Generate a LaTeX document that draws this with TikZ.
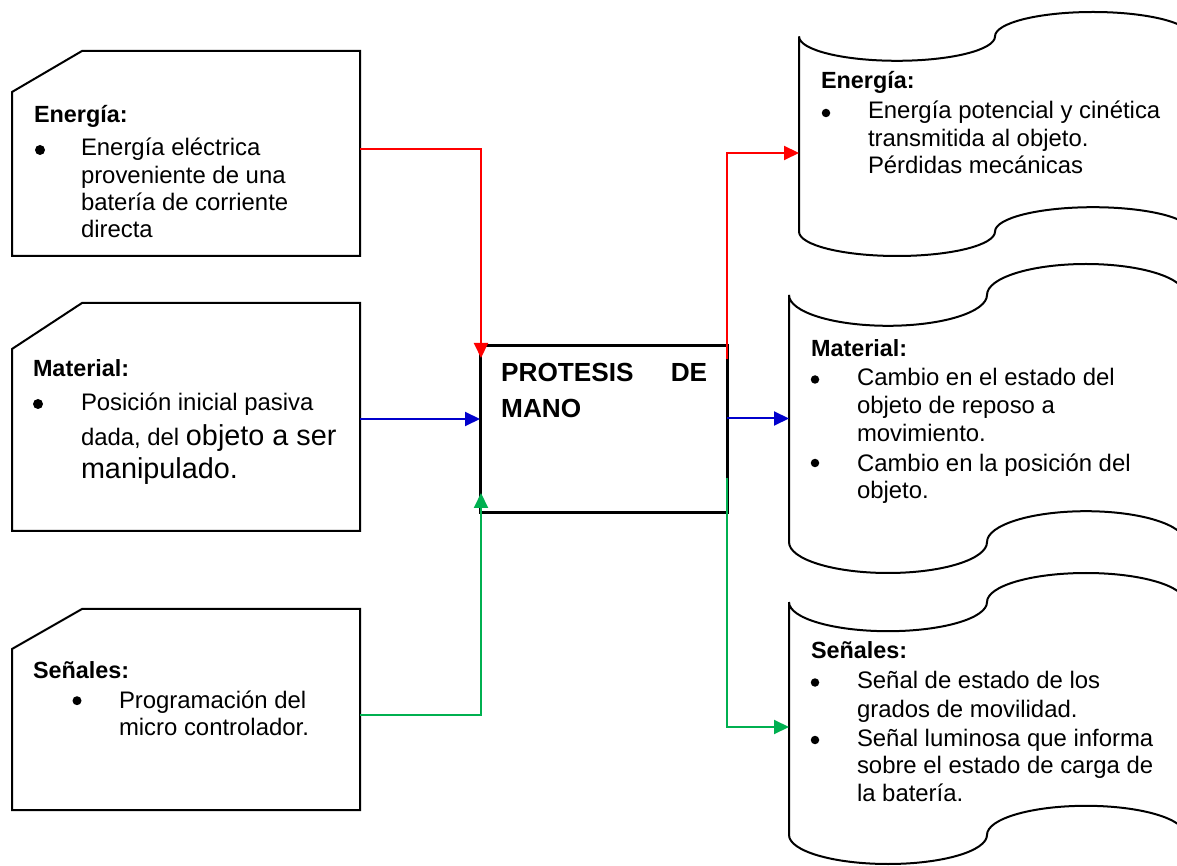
\documentclass[tikz,border=0pt]{standalone}
\usepackage{fontspec}
\setmainfont{Liberation Sans}
\usetikzlibrary{arrows.meta,calc}
\definecolor{cred}{HTML}{FF0000}
\definecolor{cblue}{HTML}{0000CC}
\definecolor{cgreen}{HTML}{00B050}
\newcommand\nf{\fontsize{23.9}{28}\selectfont}
\newcommand\tf{\fontsize{23.4}{28}\selectfont\bfseries}
\newcommand\bgf{\fontsize{28.8}{34}\selectfont}
\newcommand\cbf{\fontsize{26.2}{35}\selectfont\bfseries}
\begin{document}
\begin{tikzpicture}[x=1pt,y=1pt,
  holder/.style={draw=none,rectangle,inner sep=0pt,outer sep=0pt},
  outline/.style={draw=black,line width=2pt,line join=miter},
  txt/.style={anchor=base west,inner sep=0pt,outer sep=0pt,font=\nf},
  ttl/.style={txt,font=\tf},
  dot/.style={circle,fill=black,draw=none,inner sep=0pt,outer sep=0pt,minimum size=#1},
  link/.style={line width=2pt,-{Triangle[length=15pt,width=14pt]}}]
\clip (0,0) rectangle (1177,865);
\fill[white] (0,0) rectangle (1177,865);

% ---------- left boxes ----------
\node[holder,minimum width=348pt,minimum height=205pt] (b1) at (186,711.5) {};
\draw[outline] (b1.south west) -- (b1.south east) -- (b1.north east)
  -- ([xshift=70pt]b1.north west) -- ([yshift=-41pt]b1.north west) -- cycle;
\node[holder,minimum width=348pt,minimum height=228pt] (b2) at (186,448) {};
\draw[outline] (b2.south west) -- (b2.south east) -- (b2.north east)
  -- ([xshift=70pt]b2.north west) -- ([yshift=-46pt]b2.north west) -- cycle;
\node[holder,minimum width=348pt,minimum height=201pt] (b3) at (186,155.5) {};
\draw[outline] (b3.south west) -- (b3.south east) -- (b3.north east)
  -- ([xshift=70pt]b3.north west) -- ([yshift=-40pt]b3.north west) -- cycle;

% ---------- right tapes ----------
\node[holder,minimum width=392pt,minimum height=244pt] (t1) at (995,731) {};
\draw[outline] ([yshift=-24.4pt]t1.north west)
  arc[start angle=180,end angle=360,x radius=98pt,y radius=24.4pt]
  arc[start angle=180,end angle=0,x radius=98pt,y radius=24.4pt]
  -- ([yshift=24.4pt]t1.south east)
  arc[start angle=0,end angle=180,x radius=98pt,y radius=24.4pt]
  arc[start angle=0,end angle=-180,x radius=98pt,y radius=24.4pt] -- cycle;
\node[holder,minimum width=396pt,minimum height=309pt] (t2) at (987,446.5) {};
\draw[outline] ([yshift=-30.9pt]t2.north west)
  arc[start angle=180,end angle=360,x radius=99pt,y radius=30.9pt]
  arc[start angle=180,end angle=0,x radius=99pt,y radius=30.9pt]
  -- ([yshift=30.9pt]t2.south east)
  arc[start angle=0,end angle=180,x radius=99pt,y radius=30.9pt]
  arc[start angle=0,end angle=-180,x radius=99pt,y radius=30.9pt] -- cycle;
\node[holder,minimum width=396pt,minimum height=291pt] (t3) at (987,146.5) {};
\draw[outline] ([yshift=-29.1pt]t3.north west)
  arc[start angle=180,end angle=360,x radius=99pt,y radius=29.1pt]
  arc[start angle=180,end angle=0,x radius=99pt,y radius=29.1pt]
  -- ([yshift=29.1pt]t3.south east)
  arc[start angle=0,end angle=180,x radius=99pt,y radius=29.1pt]
  arc[start angle=0,end angle=-180,x radius=99pt,y radius=29.1pt] -- cycle;

% ---------- center box ----------
\node[draw=black,line width=3pt,rectangle,minimum width=247pt,minimum height=167pt,
  inner sep=0pt,outer sep=0pt] (pm) at (603.5,435.5) {};
\node[anchor=base west,inner sep=0pt,font=\cbf] (pmt1) at (501,483.3) {\makebox[206pt][s]{PROTESIS DE}};
\node[anchor=base west,inner sep=0pt,font=\cbf] (pmt2) at (501,447.7) {MANO};

% ---------- connectors ----------
\coordinate (ri) at ([yshift=4.5pt]b1.east);
\draw[link,cred] (ri) -| ([xshift=1pt,yshift=-12pt]pm.north west);
\coordinate (bi) at ([yshift=-2pt]b2.east);
\draw[link,cblue] (bi) -- (bi -| pm.west);
\coordinate (gi) at ([yshift=-5.5pt]b3.east);
\draw[link,cgreen] (gi) -| ([xshift=1pt,yshift=20pt]pm.south west);
\coordinate (ro) at ([yshift=-13pt]pm.north east);
\draw[link,cred] (ro) |- ([yshift=-19pt]t1.west);
\draw[link,cblue] (t2.west -| pm.east) -- (t2.west);
\coordinate (go) at ([yshift=-48.5pt]pm.east);
\draw[link,cgreen] (go) |- ([yshift=-8.5pt]t3.west);

% ---------- left texts ----------
\node[ttl] (b1t) at (34,742.3) {Energía:};
\node[dot=10pt] (b1d) at (40,715) {};
\node[txt] (b1a) at (81,709) {Energía eléctrica};
\node[txt] (b1b) at (81,681.7) {proveniente de una};
\node[txt] (b1c) at (81,654.4) {batería de corriente};
\node[txt] (b1e) at (81,627) {directa};

\node[ttl] (b2t) at (33,488) {Material:};
\node[dot=10pt] (b2d) at (38,461) {};
\node[txt] (b2a) at (81,454) {Posición inicial pasiva};
\node[txt] (b2b) at (81,419) {dada, del {\bgf objeto a ser}};
\node[txt,font=\bgf] (b2c) at (81,386) {manipulado.};

\node[ttl] (b3t) at (33,187) {Señales:};
\node[dot=9pt] (b3d) at (77,164.3) {};
\node[txt] (b3a) at (119,157) {Programación del};
\node[txt] (b3b) at (119,130) {micro controlador.};

% ---------- right texts ----------
\node[ttl] (t1t) at (821,776) {Energía:};
\node[dot=8.5pt] (t1d) at (826,752) {};
\node[txt] (t1a) at (868,746.5) {Energía potencial y cinética};
\node[txt] (t1b) at (868,718) {transmitida al objeto.};
\node[txt] (t1c) at (868,691.5) {Pérdidas mecánicas};

\node[ttl] (t2t) at (811,508) {Material:};
\node[dot=8.5pt] (t2d) at (815,485.5) {};
\node[txt] (t2a) at (857,479.5) {Cambio en el estado del};
\node[txt] (t2b) at (857,451.5) {objeto de reposo a};
\node[txt] (t2c) at (857,423.5) {movimiento.};
\node[dot=8.5pt] (t2e) at (815,402) {};
\node[txt] (t2f) at (857,393.5) {Cambio en la posición del};
\node[txt] (t2g) at (857,366) {objeto.};

\node[ttl] (t3t) at (811,206.5) {Señales:};
\node[dot=8.5pt] (t3d) at (815,182.5) {};
\node[txt] (t3a) at (857,176.5) {Señal de estado de los};
\node[txt] (t3b) at (857,147.5) {grados de movilidad.};
\node[dot=8.5pt] (t3e) at (815,125) {};
\node[txt] (t3f) at (857,118.5) {Señal luminosa que informa};
\node[txt] (t3g) at (857,91.5) {sobre el estado de carga de};
\node[txt] (t3h) at (857,64) {la batería.};
\end{tikzpicture}
\end{document}
